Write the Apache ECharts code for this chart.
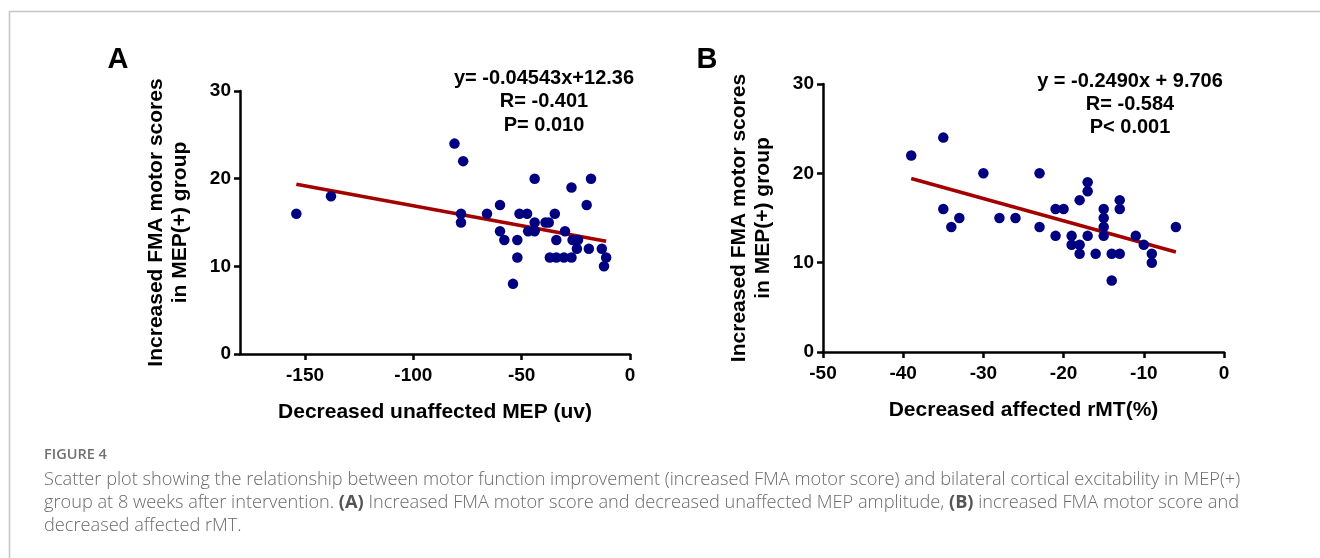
<!DOCTYPE html>
<html><head><meta charset="utf-8">
<script src="https://cdn.jsdelivr.net/npm/echarts@6/dist/echarts.min.js"></script>
<style>html,body{margin:0;padding:0;background:#fff}#c{width:1320px;height:558px}</style>
</head><body><div id="c"></div>
<script>
// Panel A: Decreased unaffected MEP (uv) vs Increased FMA motor score
const aX = [-154,-138,-81,-77,-78,-78,-66,-60,-60,-58,-54,-51,-52,-52,-47.5,-47,-44,-44,-44,-39,-37.5,-37,-34.7,-34,-34,-30,-30.5,-27,-26.5,-27,-24,-24.5,-20,-18,-19,-13,-11,-12];
const aY = [16,18,24,22,16,15,16,17,14,13,8,16,13,11,16,14,14,15,20,15,15,11,16,13,11,14,11,19,13,11,13,12,17,20,12,12,11,10];
// Panel B: Decreased affected rMT(%) vs Increased FMA motor score
const bX = [-39,-35,-35,-34,-33,-30,-28,-26,-23,-23,-21,-21,-20,-19,-19,-18,-18,-18,-17,-17,-17,-16,-15,-15,-15,-15,-14,-14,-13,-13,-13,-11,-10,-9,-9,-6];
const bY = [22,24,16,14,15,20,15,15,20,14,16,13,16,13,12,17,12,11,19,18,13,11,16,15,14,13,11,8,17,16,11,13,12,11,10,14];
// Linear fits (slope, intercept)
const fitA = [-0.04543, 12.36];
const fitB = [-0.2490, 9.706];
const yTicks = [0, 10, 20, 30];
const aXTicks = [-150, -100, -50, 0];
const bXTicks = [-50, -40, -30, -20, -10, 0];
const statsA = ['y= -0.04543x+12.36', 'R= -0.401', 'P= 0.010'];
const statsB = ['y = -0.2490x + 9.706', 'R= -0.584', 'P< 0.001'];
const yName = 'Increased FMA motor scores\nin MEP(+) group';
const xNameA = 'Decreased unaffected MEP (uv)';
const xNameB = 'Decreased affected rMT(%)';
const captionTitle = 'FIGURE 4';
const captionLines = [
  'Scatter plot showing the relationship between motor function improvement (increased FMA motor score) and bilateral cortical excitability in MEP(+)',
  'group at 8 weeks after intervention. {b|(A)} Increased FMA motor score and decreased unaffected MEP amplitude, {b|(B)} increased FMA motor score and',
  'decreased affected rMT.'
];

const FF = 'Liberation Sans, Arial, sans-serif';
const CF = '"Open Sans", "Noto Sans", sans-serif';
const pts = (xs, ys) => xs.map((x, i) => [x, ys[i]]);
const fitLine = (xs, f) => {
  const lo = Math.min(...xs), hi = Math.max(...xs);
  return [[lo, f[0] * lo + f[1]], [hi, f[0] * hi + f[1]]];
};
const axisCommon = {
  axisLine: { show: true, onZero: false, lineStyle: { color: '#000', width: 2.5 } },
  axisTick: { show: true, length: 6, lineStyle: { color: '#000', width: 2.5 } },
  splitLine: { show: false },
  axisLabel: { color: '#000', fontFamily: FF, fontWeight: 'bold', fontSize: 19 },
  nameTextStyle: { color: '#000', fontFamily: FF, fontWeight: 'bold', fontSize: 21, lineHeight: 24 }
};
function xAxis(grid, min, max, ticks, name) {
  return Object.assign({}, axisCommon, {
    type: 'value', gridIndex: grid, min: min, max: max, name: name,
    nameLocation: 'middle', nameGap: 46,
    axisTick: Object.assign({}, axisCommon.axisTick, { customValues: ticks }),
    axisLabel: Object.assign({}, axisCommon.axisLabel, { customValues: ticks, margin: 12 })
  });
}
function yAxis(grid) {
  return Object.assign({}, axisCommon, {
    type: 'value', gridIndex: grid, min: 0, max: 30, name: yName,
    nameLocation: 'middle', nameGap: 48,
    axisTick: Object.assign({}, axisCommon.axisTick, { customValues: yTicks }),
    axisLabel: Object.assign({}, axisCommon.axisLabel, { customValues: yTicks, margin: 9 })
  });
}
const statText = (lines, cx, ys) => lines.map((t, i) => ({
  type: 'text', x: cx, y: ys[i],
  style: { text: t, fill: '#000', font: 'bold 20px ' + FF, align: 'center', verticalAlign: 'middle' }
}));

const chart = echarts.init(document.getElementById('c'), null, { renderer: 'canvas' });
chart.setOption({
  animation: false,
  backgroundColor: '#fff',
  grid: [
    { left: 240, top: 91, width: 390, height: 263 },
    { left: 823, top: 84, width: 401, height: 268 }
  ],
  xAxis: [xAxis(0, -180, 0, aXTicks, xNameA), xAxis(1, -50, 0, bXTicks, xNameB)],
  yAxis: [yAxis(0), yAxis(1)],
  series: [
    { type: 'line', xAxisIndex: 0, yAxisIndex: 0, data: fitLine(aX, fitA), symbol: 'none',
      lineStyle: { color: '#a30000', width: 3.5 }, z: 2 },
    { type: 'scatter', xAxisIndex: 0, yAxisIndex: 0, data: pts(aX, aY), symbolSize: 10.5,
      itemStyle: { color: '#000080', opacity: 1 }, z: 3 },
    { type: 'line', xAxisIndex: 1, yAxisIndex: 1, data: fitLine(bX, fitB), symbol: 'none',
      lineStyle: { color: '#a30000', width: 3.5 }, z: 2 },
    { type: 'scatter', xAxisIndex: 1, yAxisIndex: 1, data: pts(bX, bY), symbolSize: 10.5,
      itemStyle: { color: '#000080', opacity: 1 }, z: 3 }
  ],
  graphic: [
    { type: 'polyline', shape: { points: [[9.5, 558], [9.5, 11.5], [1320, 11.5]] },
      style: { stroke: '#c4c4c4', lineWidth: 1.5, fill: null } },
    { type: 'text', x: 118, y: 60, style: { text: 'A', fill: '#000', font: 'bold 29px ' + FF, align: 'center', verticalAlign: 'middle' } },
    { type: 'text', x: 707, y: 60, style: { text: 'B', fill: '#000', font: 'bold 29px ' + FF, align: 'center', verticalAlign: 'middle' } }
  ].concat(statText(statsA, 544, [78, 101.5, 125]))
   .concat(statText(statsB, 1130, [81, 104, 127]))
   .concat([
    { type: 'text', x: 44, y: 455, style: { text: captionTitle, fill: '#707070', font: '600 14.5px ' + CF, verticalAlign: 'middle' } }
   ])
   .concat(captionLines.map((t, i) => ({
    type: 'text', x: 44, y: 480 + i * 23,
    style: { text: t, fill: '#6a6a6a', font: '300 18.2px ' + CF, verticalAlign: 'middle',
      rich: { b: { fontWeight: 'bold', fontSize: 18.2, fontFamily: CF, fill: '#555' } } }
   })))
});
</script></body></html>
